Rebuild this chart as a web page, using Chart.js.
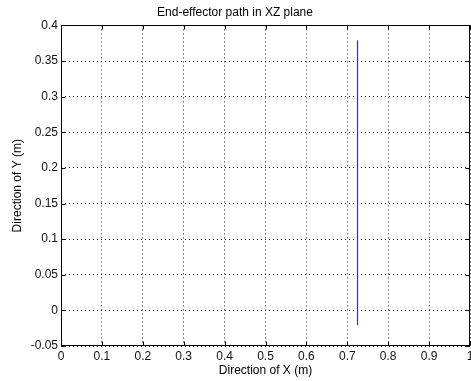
<!DOCTYPE html>
<html>
<head>
<meta charset="utf-8">
<script src="https://cdn.jsdelivr.net/npm/chart.js@4/dist/chart.umd.min.js"></script>
<style>
  html, body { margin: 0; padding: 0; background: #fff; overflow: hidden; }
  canvas { display: block; }
</style>
</head>
<body>
<canvas id="pathChart" width="490" height="381"></canvas>
<script>
// end-effector path (x, y) in metres
const pathX = [0.725, 0.725];
const pathY = [-0.021, 0.379];

// axis ticks
const xTicks = [0, 0.1, 0.2, 0.3, 0.4, 0.5, 0.6, 0.7, 0.8, 0.9, 1];
const yTicks = [-0.05, 0, 0.05, 0.1, 0.15, 0.2, 0.25, 0.3, 0.35, 0.4];

const FONT = 'Liberation Sans, Arial, Helvetica, sans-serif';
const fmt = v => String(Number(v.toFixed(2)));

// box around the axes plus matlab-style inward tick marks
const axesFrame = {
  id: 'axesFrame',
  afterDraw(chart) {
    const { ctx, chartArea: a, scales } = chart;
    const l = Math.round(a.left) + 0.5, r = Math.round(a.right) - 0.5;
    const t = Math.round(a.top) + 0.5, b = Math.round(a.bottom) - 0.5;
    ctx.save();
    ctx.strokeStyle = '#000';
    ctx.lineWidth = 1;
    ctx.strokeRect(l, t, r - l, b - t);
    ctx.beginPath();
    xTicks.forEach(v => {
      const px = Math.round(scales.x.getPixelForValue(v)) + 0.5;
      ctx.moveTo(px, b); ctx.lineTo(px, b - 4);
      ctx.moveTo(px, t); ctx.lineTo(px, t + 4);
    });
    yTicks.forEach(v => {
      const py = Math.round(scales.y.getPixelForValue(v)) + 0.5;
      ctx.moveTo(l, py); ctx.lineTo(l + 4, py);
      ctx.moveTo(r, py); ctx.lineTo(r - 4, py);
    });
    ctx.stroke();
    ctx.restore();
  }
};

// dotted grid (v4 takes the dash from border.dash)
const gridStyle = { color: '#222', lineWidth: 1, drawTicks: false };
const dotted = { display: false, dash: [1, 3] };

new Chart(document.getElementById('pathChart'), {
  type: 'scatter',
  data: {
    datasets: [{
      data: pathX.map((x, i) => ({ x: x, y: pathY[i] })),
      showLine: true,
      borderColor: '#3434b8',
      borderWidth: 1.2,
      pointRadius: 0,
      fill: false
    }]
  },
  options: {
    responsive: false,
    animation: false,
    layout: { padding: { left: 0, right: 20, top: 0, bottom: 0 } },
    plugins: {
      legend: { display: false },
      tooltip: { enabled: false },
      title: {
        display: true,
        text: 'End-effector path in XZ plane',
        color: '#000',
        font: { family: FONT, size: 12, weight: 'normal' },
        padding: { top: 5, bottom: 6 }
      }
    },
    scales: {
      x: {
        type: 'linear',
        min: 0,
        max: 1,
        afterBuildTicks: s => { s.ticks = xTicks.map(v => ({ value: v })); },
        afterFit: s => { s.height = 35; },
        border: dotted,
        grid: gridStyle,
        ticks: {
          color: '#111',
          padding: 3,
          maxRotation: 0,
          font: { family: FONT, size: 12 },
          callback: v => fmt(v)
        },
        title: {
          display: true,
          text: 'Direction of X (m)',
          color: '#000',
          font: { family: FONT, size: 12 },
          padding: { top: 0, bottom: 3 }
        }
      },
      y: {
        type: 'linear',
        min: -0.05,
        max: 0.4,
        afterBuildTicks: s => { s.ticks = yTicks.map(v => ({ value: v })); },
        afterFit: s => { s.width = 61; },
        border: dotted,
        grid: gridStyle,
        ticks: {
          color: '#111',
          padding: 3,
          font: { family: FONT, size: 12 },
          callback: v => fmt(v)
        },
        title: {
          display: true,
          text: 'Direction of Y (m)',
          color: '#000',
          font: { family: FONT, size: 12 },
          padding: { top: 10, bottom: 0 }
        }
      }
    }
  },
  plugins: [axesFrame]
});
</script>
</body>
</html>
